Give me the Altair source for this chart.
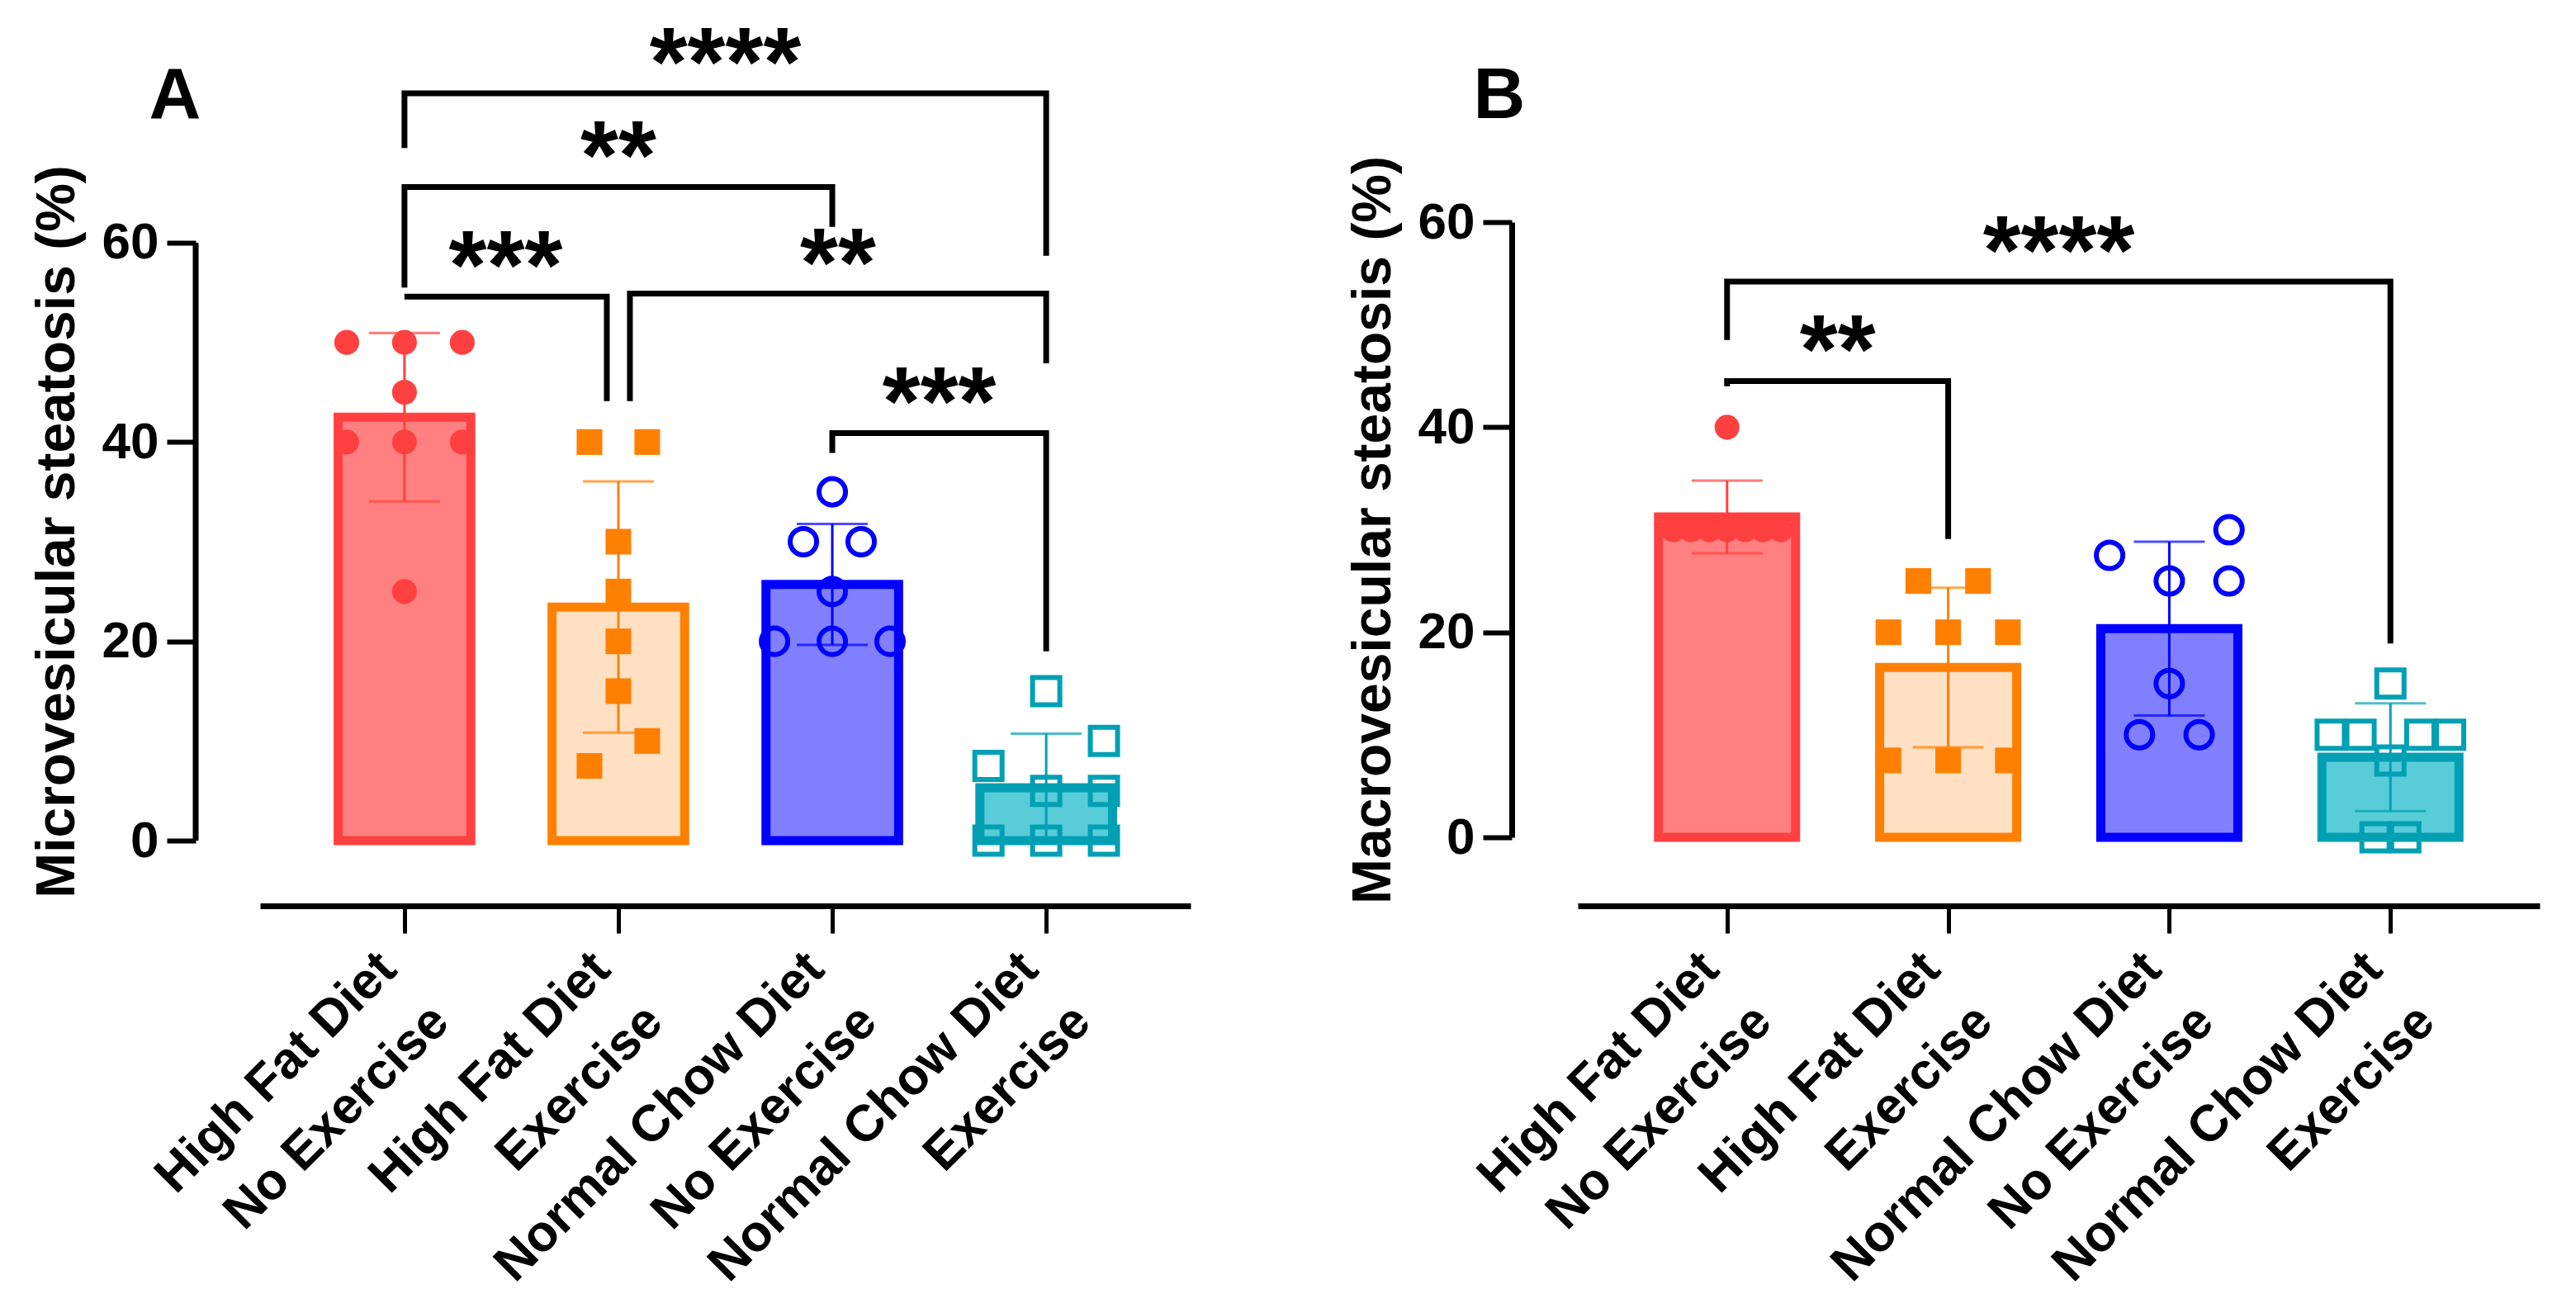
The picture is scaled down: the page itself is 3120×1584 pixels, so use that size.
import json
import altair as alt
import pandas as pd

# ---------------- categories ----------------
group_labels = ["High Fat Diet|No Exercise", "High Fat Diet|Exercise",
                "Normal Chow Diet|No Exercise", "Normal Chow Diet|Exercise"]
group_keys = ["HFD-NoEx", "HFD-Ex", "NCD-NoEx", "NCD-Ex"]

stroke_colors = ["#FF4040", "#FF8000", "#0000FF", "#00A0B4"]
fill_colors = ["#FF8080", "#FFE0C2", "#8080FF", "#58CCD8"]
shapes = ["circle", "square", "circle", "square"]
open_groups = ["NCD-NoEx", "NCD-Ex"]

# ---------------- panel A: microvesicular steatosis (%) ----------------
a_hfd_noex = [50, 50, 50, 45, 40, 40, 40, 25]
a_hfd_ex = [40, 40, 30, 25, 20, 15, 10, 7.5]
a_ncd_noex = [35, 30, 30, 25, 20, 20, 20]
a_ncd_ex = [15, 10, 7.5, 5, 5, 0, 0, 0]
# side-by-side spread of dots sharing a value (in dot slots)
a_hfd_noex_spread = [-1, 0, 1, 0, -1, 0, 1, 0]
a_hfd_ex_spread = [-0.5, 0.5, 0, 0, 0, 0, 0.5, -0.5]
a_ncd_noex_spread = [0, -0.5, 0.5, 0, -1, 0, 1]
a_ncd_ex_spread = [0, 1, -1, 0, 1, -1, 0, 1]

a_br_from = [1, 1, 1, 2, 3]
a_br_to = [4, 3, 2, 4, 4]
a_br_height = [75.0, 65.6, 54.6, 54.9, 40.9]
a_br_from_end = [69.5, 55.5, 54.6, 44.1, 38.9]
a_br_to_end = [58.7, 61.6, 44.1, 47.9, 19.0]
a_br_from_shift = [0, 0, 0, 0.2, 0]
a_br_to_shift = [0, 0, -0.2, 0, 0]
a_br_label = ["****", "**", "***", "**", "***"]

# ---------------- panel B: macrovesicular steatosis (%) ----------------
b_hfd_noex = [40, 30, 30, 30, 30, 30, 30, 30]
b_hfd_ex = [25, 25, 20, 20, 20, 7.5, 7.5, 7.5]
b_ncd_noex = [30, 27.5, 25, 25, 15, 10, 10]
b_ncd_ex = [15, 10, 10, 10, 10, 7.5, 0, 0]
b_hfd_noex_spread = [0, -0.9, -0.6, -0.3, 0, 0.3, 0.6, 0.9]
b_hfd_ex_spread = [-0.5, 0.5, -1, 0, 1, -1, 0, 1]
b_ncd_noex_spread = [1, -1, 0, 1, 0, -0.5, 0.5]
b_ncd_ex_spread = [0, -1, -0.5, 0.5, 1, 0, -0.25, 0.25]

b_br_from = [1, 1]
b_br_to = [4, 2]
b_br_height = [54.2, 44.5]
b_br_from_end = [48.5, 44.0]
b_br_to_end = [18.9, 29.1]
b_br_from_shift = [0, 0]
b_br_to_shift = [0, 0]
b_br_label = ["****", "**"]

y_ticks = [0, 20, 40, 60]

SLOT = 0.27      # dot slot width, in category steps
HALF_BAR = 0.31  # half bar width, in category steps
FONT = "Liberation Sans"


def build_points(values, spreads):
    rows = []
    for gi, (vals, sps) in enumerate(zip(values, spreads)):
        for v, s in zip(vals, sps):
            rows.append({"group": group_keys[gi], "idx": gi + 1, "value": v, "spread": s})
    return pd.DataFrame(rows)


def build_brackets(b_from, b_to, heights, from_end, to_end, f_shift, t_shift, labels):
    path, txt = [], []
    for i in range(len(b_from)):
        xf = b_from[i] + f_shift[i] * SLOT
        xt = b_to[i] + t_shift[i] * SLOT
        pts = [(xf, from_end[i]), (xf, heights[i]), (xt, heights[i]), (xt, to_end[i])]
        for k, (px, py) in enumerate(pts):
            path.append({"bid": i, "seq": k, "bx": px, "by": py})
        txt.append({"tx": (xf + xt) / 2, "ty": heights[i], "label": labels[i]})
    return pd.DataFrame(path), pd.DataFrame(txt)


label_expr = "split(" + json.dumps(group_labels) + "[datum.value - 1], '|')"


def panel(points, br_path, br_txt, letter, ytitle, width, height, ymax,
          xoff, yoff, letter_x, letter_y, native_domain):
    xs = alt.Scale(domain=[0.325, 4.675], nice=False, zero=False)
    ys = alt.Scale(domain=[0, ymax], nice=False, zero=False)
    xaxis = alt.Axis(values=[1, 2, 3, 4], labelExpr=label_expr, labelAngle=-45,
                     labelAlign="right", labelBaseline="top", labelFont=FONT,
                     labelFontSize=62, labelFontWeight="bold", labelLineHeight=90,
                     labelPadding=12, labelOffset=-42, labelOverlap=False,
                     labelFlush=False, labelBound=False, labelLimit=2000,
                     tickSize=33, tickWidth=5, domainWidth=7, domainColor="black",
                     tickColor="black", labelColor="black", offset=xoff,
                     grid=False, title=None)
    yaxis = alt.Axis(values=y_ticks, format="d", tickSize=35, tickWidth=6,
                     domain=native_domain, domainWidth=7, domainColor="black",
                     tickColor="black", labelColor="black", labelFont=FONT,
                     labelFontSize=62, labelFontWeight="bold", labelPadding=10,
                     title=ytitle, titleFont=FONT, titleFontSize=66,
                     titleFontWeight="bold", titleColor="black", titlePadding=20,
                     offset=yoff, grid=False)

    stroke_scale = alt.Scale(domain=group_keys, range=stroke_colors)
    fill_scale = alt.Scale(domain=group_keys, range=fill_colors)
    shape_scale = alt.Scale(domain=group_keys, range=shapes)
    size_scale = alt.Scale(domain=group_keys, range=[908, 1089, 804, 1089])

    base = alt.Chart(points)
    agg = base.transform_aggregate(
        mean="mean(value)", sd="stdev(value)", groupby=["group", "idx"]
    ).transform_calculate(
        lo=f"datum.idx - {HALF_BAR}", hi=f"datum.idx + {HALF_BAR}",
        elo="datum.mean - datum.sd", ehi="datum.mean + datum.sd")

    bars = agg.mark_bar(strokeWidth=11, strokeJoin="miter").encode(
        x=alt.X("lo:Q", scale=xs, axis=xaxis), x2="hi:Q",
        y=alt.Y("mean:Q", scale=ys, axis=yaxis), y2=alt.datum(0),
        fill=alt.Fill("group:N", scale=fill_scale, legend=None),
        stroke=alt.Stroke("group:N", scale=stroke_scale, legend=None))

    err = agg.mark_rule(strokeWidth=3).encode(
        x=alt.X("idx:Q", scale=xs, axis=xaxis),
        y=alt.Y("elo:Q", scale=ys, axis=yaxis), y2="ehi:Q",
        color=alt.Color("group:N", scale=stroke_scale, legend=None))
    cap_hi = agg.mark_tick(orient="horizontal", size=86, thickness=3).encode(
        x=alt.X("idx:Q", scale=xs, axis=xaxis),
        y=alt.Y("ehi:Q", scale=ys, axis=yaxis),
        color=alt.Color("group:N", scale=stroke_scale, legend=None))
    cap_lo = agg.mark_tick(orient="horizontal", size=86, thickness=3).encode(
        x=alt.X("idx:Q", scale=xs, axis=xaxis),
        y=alt.Y("elo:Q", scale=ys, axis=yaxis),
        color=alt.Color("group:N", scale=stroke_scale, legend=None))

    pts = base.transform_calculate(px=f"datum.idx + {SLOT} * datum.spread")
    penc = dict(
        x=alt.X("px:Q", scale=xs, axis=xaxis),
        y=alt.Y("value:Q", scale=ys, axis=yaxis),
        color=alt.Color("group:N", scale=stroke_scale, legend=None),
        shape=alt.Shape("group:N", scale=shape_scale, legend=None),
        size=alt.Size("group:N", scale=size_scale, legend=None))
    filled_pts = pts.transform_filter(
        alt.FieldOneOfPredicate(field="group", oneOf=[g for g in group_keys if g not in open_groups])
    ).mark_point(filled=True, opacity=1, strokeWidth=0).encode(**penc)
    open_pts = pts.transform_filter(
        alt.FieldOneOfPredicate(field="group", oneOf=open_groups)
    ).mark_point(filled=False, opacity=1, strokeWidth=6).encode(**penc)

    brackets = alt.Chart(br_path).mark_line(
        color="black", strokeWidth=7, strokeJoin="miter", strokeCap="butt").encode(
        x=alt.X("bx:Q", scale=xs, axis=xaxis),
        y=alt.Y("by:Q", scale=ys, axis=yaxis),
        detail="bid:N", order="seq:Q")
    stars = alt.Chart(br_txt).mark_text(
        font=FONT, fontSize=118, fontWeight="bold", dy=3, baseline="alphabetic",
        align="center", color="black").encode(
        x=alt.X("tx:Q", scale=xs, axis=xaxis),
        y=alt.Y("ty:Q", scale=ys, axis=yaxis), text="label:N")

    letter_mark = alt.Chart(pd.DataFrame({"t": [letter]})).mark_text(
        font=FONT, fontSize=87, fontWeight="bold", align="center",
        baseline="alphabetic", color="black").encode(
        text="t:N", x=alt.value(letter_x), y=alt.value(letter_y))

    layers = [bars, err, cap_hi, cap_lo, filled_pts, open_pts, brackets, stars, letter_mark]
    if not native_domain:
        yline = alt.Chart(pd.DataFrame({"y0": [min(y_ticks)], "y1": [max(y_ticks)]})).mark_rule(
            color="black", strokeWidth=7).encode(
            x=alt.value(-yoff), y=alt.Y("y0:Q", scale=ys, axis=yaxis), y2="y1:Q")
        layers.append(yline)
    return alt.layer(*layers).properties(width=width, height=height)


pts_a = build_points([a_hfd_noex, a_hfd_ex, a_ncd_noex, a_ncd_ex],
                     [a_hfd_noex_spread, a_hfd_ex_spread, a_ncd_noex_spread, a_ncd_ex_spread])
pts_b = build_points([b_hfd_noex, b_hfd_ex, b_ncd_noex, b_ncd_ex],
                     [b_hfd_noex_spread, b_hfd_ex_spread, b_ncd_noex_spread, b_ncd_ex_spread])
path_a, txt_a = build_brackets(a_br_from, a_br_to, a_br_height, a_br_from_end, a_br_to_end,
                               a_br_from_shift, a_br_to_shift, a_br_label)
path_b, txt_b = build_brackets(b_br_from, b_br_to, b_br_height, b_br_from_end, b_br_to_end,
                               b_br_from_shift, b_br_to_shift, b_br_label)

chart_a = panel(pts_a, path_a, txt_a, "A", "Microvesicular steatosis (%)",
                width=1127, height=749, ymax=62.07, xoff=79, yoff=78,
                letter_x=-103, letter_y=-126, native_domain=False)
chart_b = panel(pts_b, path_b, txt_b, "B", "Macrovesicular steatosis (%)",
                width=1165, height=745, ymax=60, xoff=83, yoff=80,
                letter_x=-95, letter_y=-126, native_domain=True)

chart = alt.hconcat(chart_a, chart_b, spacing=188).properties(
    padding={"left": 28, "top": 13, "right": 5, "bottom": 2}
).configure(font=FONT).configure_view(stroke=None)

chart.save("out.html", embed_options={"renderer": "svg", "actions": False})
